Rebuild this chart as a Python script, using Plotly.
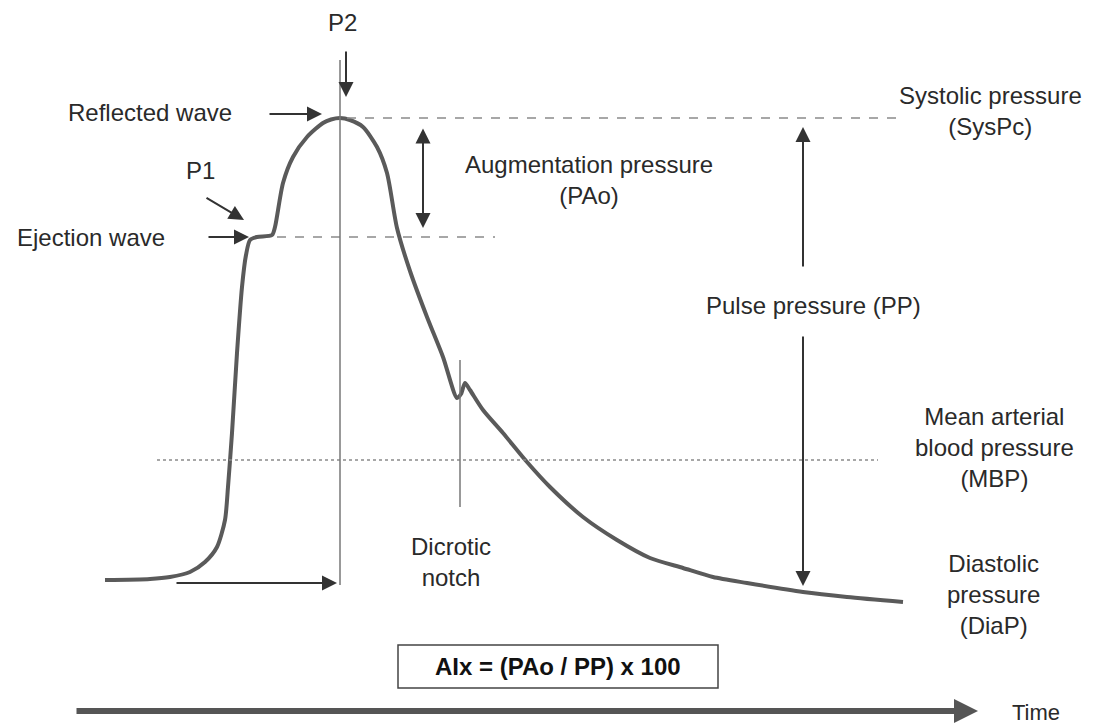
import plotly.graph_objects as go

tempo = [105, 150, 170, 190, 205, 217, 225, 228, 232, 237, 242, 246, 250, 257, 272, 275, 283, 293,
         307, 323, 331, 340, 350, 363, 377, 387, 397, 410, 427, 443, 457, 461, 465, 470, 483, 503,
         527, 550, 583, 617, 650, 683, 713, 747, 803, 847, 903]
pressao = [580, 579, 577, 572, 562, 547, 520, 487, 433, 353, 287, 255, 240, 237, 235, 227, 183, 157,
           137, 123, 119.5, 118, 120, 127, 147, 173, 228, 271, 317, 357, 398, 394, 383, 390, 410, 433,
           462, 487, 517, 540, 558, 568, 577, 583, 592, 597, 602]

# Níveis de referência
nivel_sistolica = 118
nivel_ejecao = 237
nivel_mbp = 460
nivel_diastolica = 590
x_p2 = 340
x_notch = 460
x_pp = 803

FONTE = 'Liberation Sans, Arial, sans-serif'
COR_TEXTO = '#2a2a2a'
COR_LINHA = '#8a8a8a'

fig = go.Figure()
fig.add_trace(go.Scatter(x=tempo, y=pressao, mode='lines',
                         line=dict(color='#5a5a5a', width=4, shape='spline', smoothing=0.7),
                         hoverinfo='skip', showlegend=False))

shapes = [
    # linha tracejada sistólica
    dict(type='line', x0=347, x1=898, y0=nivel_sistolica, y1=nivel_sistolica,
         line=dict(color=COR_LINHA, width=1.5, dash='dash')),
    # linha tracejada da onda de ejeção
    dict(type='line', x0=277, x1=495, y0=nivel_ejecao, y1=nivel_ejecao,
         line=dict(color=COR_LINHA, width=1.5, dash='dash')),
    # linha pontilhada MBP
    dict(type='line', x0=157, x1=878, y0=nivel_mbp, y1=nivel_mbp,
         line=dict(color=COR_LINHA, width=1.5, dash='dot')),
    # vertical P2
    dict(type='line', x0=x_p2, x1=x_p2, y0=60, y1=585,
         line=dict(color='#777777', width=1.5)),
    # vertical incisura dicrótica
    dict(type='line', x0=x_notch, x1=x_notch, y0=360, y1=507,
         line=dict(color='#777777', width=1.5)),
    # caixa AIx
    dict(type='rect', x0=398, x1=718, y0=645, y1=688,
         line=dict(color='#444444', width=1.5), fillcolor='white'),
]


def seta(x, y, ax, ay, largura=2, cor='#333333', lados='end', cabeca=2, tamanho=1.5):
    return dict(x=x, y=y, ax=ax, ay=ay, xref='x', yref='y', axref='x', ayref='y',
                showarrow=True, arrowhead=cabeca, arrowsize=tamanho, arrowwidth=largura,
                arrowcolor=cor, arrowside=lados, startarrowhead=cabeca, startarrowsize=tamanho,
                text='')


def texto(x, y, t, tamanho=24, **kw):
    return dict(x=x, y=y, xref='x', yref='y', text=t, showarrow=False,
                font=dict(family=FONTE, size=tamanho, color=COR_TEXTO), **kw)


annotations = [
    seta(322, 114, 268, 114),          # Reflected wave
    seta(346, 97, 346, 50),            # P2
    seta(244, 220, 205, 197),          # P1
    seta(249, 237, 207, 237),          # Ejection wave
    seta(423, 228, 423, 127, lados='end+start'),  # Augmentation
    seta(x_pp, 127, x_pp, 268),        # PP para cima
    seta(x_pp, nivel_diastolica - 4, x_pp, 335),  # PP para baixo
    seta(337, 583, 175, 583),          # intervalo de tempo
    seta(978, 711, 75, 711, largura=6, cor='#555555', cabeca=2, tamanho=0.8),  # eixo do tempo
    texto(150, 112, 'Reflected wave'),
    texto(342, 22, 'P2'),
    texto(200, 170, 'P1'),
    texto(91, 237, 'Ejection wave'),
    texto(589, 180, 'Augmentation pressure<br>(PAo)', align='center'),
    texto(990, 111, 'Systolic pressure<br>(SysPc)', align='center'),
    texto(813, 305, 'Pulse pressure (PP)'),
    texto(994, 447, 'Mean arterial<br>blood pressure<br>(MBP)', align='center'),
    texto(993, 594, 'Diastolic<br>pressure<br>(DiaP)', align='center'),
    texto(451, 562, 'Dicrotic<br>notch', align='center'),
    dict(x=558, y=666, xref='x', yref='y', text='<b>AIx = (PAo / PP) x 100</b>', showarrow=False,
         font=dict(family='Liberation Sans Narrow, Arial Narrow, Liberation Sans, sans-serif',
                   size=24, color='#111111')),
    texto(1036, 712, 'Time', tamanho=22),
]

fig.update_layout(
    width=1094, height=726,
    margin=dict(t=0, b=0, l=0, r=0),
    paper_bgcolor='white',
    plot_bgcolor='white',
    shapes=shapes,
    annotations=annotations,
    xaxis=dict(range=[0, 1094], visible=False, fixedrange=True),
    yaxis=dict(range=[726, 0], visible=False, fixedrange=True),
    showlegend=False,
)

fig.write_html("out.html", config={'displayModeBar': False},
               post_script="document.body.style.margin='0';")
